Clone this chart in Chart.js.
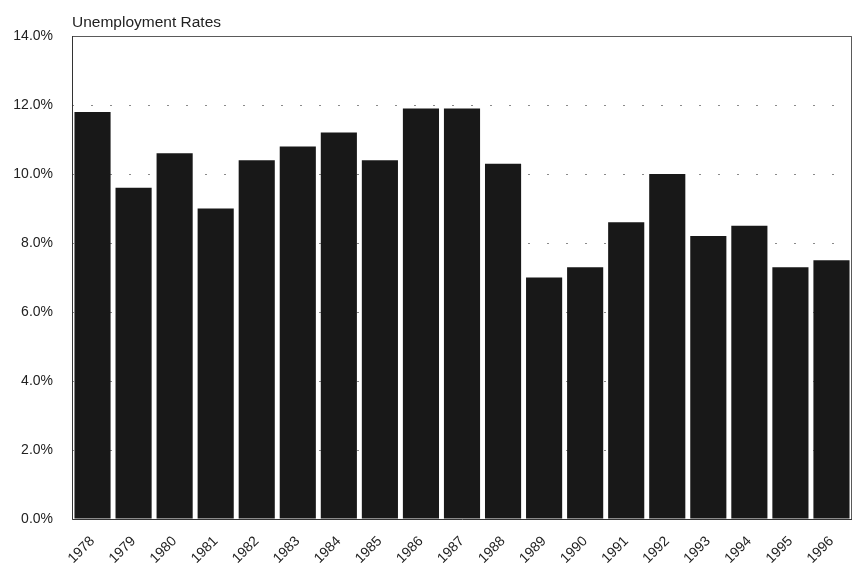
<!DOCTYPE html>
<html>
<head>
<meta charset="utf-8">
<script src="https://cdn.jsdelivr.net/npm/chart.js@4.4.1/dist/chart.umd.min.js"></script>
<style>
  html, body { margin: 0; padding: 0; background: #ffffff; }
  #wrap { width: 858px; height: 566px; }
</style>
</head>
<body>
<div id="wrap"><canvas id="chart" width="858" height="566"></canvas></div>
<script>
// Annual unemployment rates, percent
const years = ['1978','1979','1980','1981','1982','1983','1984','1985','1986','1987',
               '1988','1989','1990','1991','1992','1993','1994','1995','1996'];
const rates = [11.8, 9.6, 10.6, 9.0, 10.4, 10.8, 11.2, 10.4, 11.9, 11.9,
               10.3, 7.0, 7.3, 8.6, 10.0, 8.2, 8.5, 7.3, 7.5];
const yTicks = [0, 2, 4, 6, 8, 10, 12, 14];
const chartTitle = 'Unemployment Rates';

const FONT = "'Liberation Sans', Arial, Helvetica, sans-serif";

// Frame around the plot area plus the small heading above it
const framePlugin = {
  id: 'frame',
  afterDatasetsDraw(chart) {
    const { ctx, chartArea: a } = chart;
    ctx.save();
    ctx.lineWidth = 1;
    ctx.strokeStyle = '#5a5a5a';
    ctx.beginPath();
    ctx.moveTo(a.left + 0.5, a.top + 0.5);
    ctx.lineTo(a.right - 0.5, a.top + 0.5);
    ctx.lineTo(a.right - 0.5, a.bottom);
    ctx.stroke();
    ctx.strokeStyle = '#333333';
    ctx.beginPath();
    ctx.moveTo(a.left + 0.5, a.top);
    ctx.lineTo(a.left + 0.5, a.bottom + 0.5);
    ctx.lineTo(a.right, a.bottom + 0.5);
    ctx.stroke();
    ctx.restore();
  },
  afterDraw(chart) {
    const { ctx, chartArea: a } = chart;
    ctx.save();
    ctx.fillStyle = '#222222';
    ctx.font = '15.5px ' + FONT;
    ctx.textAlign = 'left';
    ctx.textBaseline = 'alphabetic';
    ctx.fillText(chartTitle, a.left, a.top - 9);
    ctx.restore();
  }
};

new Chart(document.getElementById('chart'), {
  type: 'bar',
  data: {
    labels: years,
    datasets: [{
      data: rates,
      backgroundColor: '#181818',
      borderWidth: 0,
      categoryPercentage: 1.0,
      barPercentage: 0.88
    }]
  },
  options: {
    responsive: false,
    animation: false,
    layout: { padding: { top: 36, right: 6, left: 0, bottom: 0 } },
    plugins: { legend: { display: false }, tooltip: { enabled: false }, title: { display: false } },
    scales: {
      x: {
        grid: { display: false, drawTicks: false },
        border: { display: false },
        ticks: {
          color: '#222222',
          font: { family: FONT, size: 14 },
          maxRotation: 45, minRotation: 45,
          padding: 14,
          autoSkip: false
        },
        afterFit(scale) { scale.height = 47; }
      },
      y: {
        min: 0, max: 14,
        afterBuildTicks(scale) { scale.ticks = yTicks.map(v => ({ value: v })); },
        grid: {
          color: '#8a8a8a',
          lineWidth: 1,
          drawTicks: false
        },
        border: { display: false, dash: [2, 17] },
        ticks: {
          color: '#222222',
          font: { family: FONT, size: 14 },
          padding: 19,
          callback: v => v.toFixed(1) + '%'
        },
        afterFit(scale) { scale.width = 72; }
      }
    }
  },
  plugins: [framePlugin]
});
</script>
</body>
</html>
